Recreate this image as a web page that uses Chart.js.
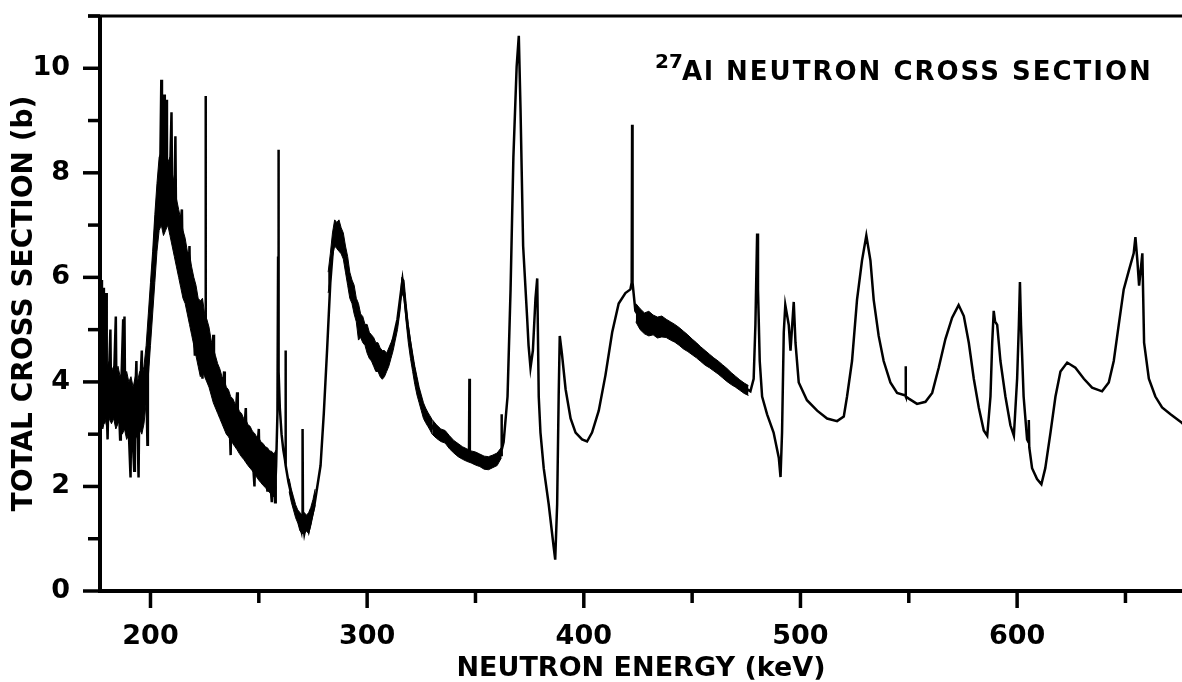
<!DOCTYPE html>
<html><head><meta charset="utf-8">
<script src="https://cdn.jsdelivr.net/npm/chart.js@4.4.1/dist/chart.umd.min.js"></script>
<style>html,body{margin:0;padding:0;background:#fff;}#wrap{width:1182px;height:682px;}</style>
</head><body><div id="wrap"><canvas id="c" width="1182" height="682"></canvas></div>
<script>
// ---- ticks and tick labels ----
const xTickValues = [200, 250, 300, 350, 400, 450, 500, 550, 600, 650];
const xTickLabels = [200, 300, 400, 500, 600];
const yTickValues = [0, 1, 2, 3, 4, 5, 6, 7, 8, 9, 10, 11];
const yTickLabels = [0, 2, 4, 6, 8, 10];

// ---- main trace: neutron energy (keV) and total cross section (b) ----
const energy = [177.0,177.3,177.6,178.2,178.5,179.0,179.5,179.8,180.2,180.6,181.5,181.8,183.0,184.0,184.3,185.3,186.0,186.3,187.4,187.7,188.0,188.3,189.5,190.8,191.1,192.5,192.8,193.5,193.8,194.5,194.8,196.0,196.3,197.0,198.0,198.6,198.8,199.5,200.5,201.5,202.5,203.5,204.5,205.0,205.3,206.0,206.3,206.6,207.3,207.6,208.5,208.8,209.7,210.0,211.0,211.5,211.8,213.0,214.5,214.8,216.0,217.5,218.0,218.3,219.5,220.5,220.8,222.0,223.0,224.0,224.3,225.2,225.4,225.6,227.0,228.5,229.0,229.3,231.0,233.0,234.0,234.3,235.0,236.5,237.0,237.3,239.0,240.0,240.3,241.0,243.0,244.0,244.3,245.0,247.0,248.0,248.3,249.0,250.0,250.3,251.0,253.0,254.0,254.3,255.0,256.0,256.3,257.0,257.5,257.8,258.0,258.6,258.9,259.0,259.1,259.3,259.7,260.5,261.3,262.1,262.3,262.5,263.7,266.0,268.3,269.7,270.0,270.2,270.4,271.0,272.0,273.0,274.0,275.5,277.0,278.5,280.0,281.5,283.0,284.5,286.0,287.5,289.0,292.0,295.5,298.4,303.0,307.0,310.8,314.0,316.3,318.6,321.0,323.3,326.0,330.6,335.2,339.8,344.4,347.0,347.2,347.4,350.9,355.5,360.1,361.8,362.0,362.2,363.0,364.8,366.2,367.5,369.0,370.0,370.8,372.0,373.8,374.5,375.4,376.5,377.7,378.5,379.2,380.0,381.5,383.8,386.1,386.8,387.7,388.4,388.9,389.9,391.6,393.9,396.2,399.2,401.5,403.8,406.9,410.0,413.1,416.1,419.2,421.5,422.1,422.3,422.5,423.8,426.9,431.5,437.7,443.8,450.0,456.1,462.3,468.4,473.0,476.9,478.4,479.2,480.0,480.4,481.2,482.3,484.6,487.6,490.0,490.8,491.5,492.3,493.0,494.6,495.4,496.9,497.7,499.2,503.0,507.7,512.3,516.9,520.0,521.5,523.8,526.1,528.4,530.4,532.3,533.8,536.1,538.4,541.5,544.6,547.7,548.3,548.5,548.7,550.0,553.8,557.7,560.8,563.8,566.9,570.0,573.0,575.4,577.7,580.0,582.3,584.6,586.2,587.7,588.5,589.2,589.8,590.8,592.3,594.6,596.9,598.5,600.0,600.8,601.3,601.8,603.0,604.6,605.2,605.4,605.6,606.9,609.2,611.2,613.0,615.4,617.7,620.0,623.1,626.9,630.8,634.6,639.2,642.3,644.6,646.9,649.2,651.5,653.8,654.6,655.5,656.3,657.8,658.6,660.8,663.8,666.9,670.8,675.4,676.5];
const sigma = [4.0,5.95,3.6,5.8,3.2,3.9,5.7,3.5,2.9,3.8,5.0,3.7,3.8,5.25,3.7,3.7,2.9,3.6,5.2,3.7,5.25,3.6,3.6,2.17,3.5,2.3,3.5,4.4,3.5,2.17,3.5,4.6,3.6,3.7,4.1,2.8,4.3,5.0,5.8,6.4,7.1,7.6,8.0,9.78,8.0,7.9,9.5,7.8,9.4,7.8,8.2,7.5,9.16,7.4,7.3,8.7,7.1,6.7,7.3,6.4,6.1,5.7,6.6,5.6,5.4,4.5,5.3,5.0,4.8,4.06,4.8,4.8,9.47,4.7,4.45,4.2,4.9,4.2,3.85,3.65,4.2,3.6,3.5,3.3,2.6,3.3,3.2,3.8,3.1,3.05,2.9,3.5,2.9,2.8,2.68,2.0,2.65,2.55,3.1,2.5,2.45,2.35,1.9,2.3,2.25,1.7,2.2,2.15,1.7,2.2,2.4,3.4,6.4,8.44,6.4,4.2,3.5,3.0,2.7,2.5,4.6,2.4,2.08,1.66,1.39,1.15,1.3,3.1,1.3,1.1,1.3,1.15,1.35,1.6,2.0,2.4,3.4,4.6,5.9,6.7,6.95,6.8,6.6,5.9,5.35,4.95,4.55,4.35,4.6,5.2,5.95,5.1,4.4,3.9,3.45,3.1,2.97,2.76,2.62,2.6,4.06,2.6,2.52,2.45,2.52,2.6,3.38,2.7,2.85,3.72,5.77,8.3,10.03,10.62,9.2,6.6,5.26,4.7,4.27,4.6,5.6,5.98,3.72,3.03,2.35,1.66,0.84,0.6,1.66,3.72,4.88,4.54,3.86,3.3,3.03,2.9,2.86,3.03,3.45,4.13,4.95,5.5,5.7,5.77,5.9,8.92,5.9,5.36,5.16,5.09,5.02,4.88,4.68,4.47,4.27,4.06,3.92,3.82,4.06,5.09,6.84,5.77,4.4,3.72,3.38,3.03,2.55,2.18,3.03,4.95,5.47,5.09,4.6,5.53,4.75,3.99,3.65,3.45,3.3,3.25,3.34,3.72,4.4,5.57,6.32,6.8,6.32,5.57,4.88,4.4,3.99,3.79,3.75,3.75,4.3,3.72,3.68,3.58,3.62,3.79,4.27,4.82,5.23,5.47,5.26,4.75,4.06,3.51,3.07,2.97,3.72,4.75,5.36,5.16,5.09,4.4,3.72,3.17,2.97,4.06,5.09,5.91,5.09,3.72,2.9,2.85,3.27,2.75,2.35,2.14,2.04,2.35,3.03,3.72,4.2,4.37,4.27,4.06,3.89,3.82,3.99,4.4,5.09,5.77,6.12,6.46,6.77,6.32,5.84,6.46,4.75,4.06,3.72,3.51,3.38,3.24,3.2];

// ---- statistical-scatter envelopes (upper / lower) of the noisy stretches ----
const bandAE = [177,178,179,180,181,182,183,184,185,186,187,188,189,190,191,192,193,194,195,196,197,198,199,200,201,202,203,204,205,206,207,208,209,210,211,212,213,214,215,216,217,218,219,220,221,222,223,224,225,226,227,228,229,230,231,232,233,234,235,236,237,238,239,240,241,242,243,244,245,246,247,248,249,250,251,252,253,254,255,256,257,258];
const bandAHi = [4.6,4.4,4.5,4.3,4.4,4.2,4.3,4.1,4.3,4.1,4.2,4.0,4.2,4.0,4.1,3.9,4.1,4.0,4.2,4.1,4.3,4.7,5.3,5.9,6.5,7.2,7.8,8.3,8.4,8.3,8.5,8.2,8.3,8.0,7.8,7.5,7.3,7.1,6.9,6.75,6.5,6.45,6.2,6.0,5.85,5.6,5.55,5.6,5.3,5.2,5.05,4.8,4.65,4.5,4.35,4.25,4.1,4.05,3.9,3.85,3.72,3.68,3.58,3.55,3.44,3.4,3.3,3.28,3.18,3.15,3.06,3.02,2.95,2.93,2.85,2.82,2.76,2.74,2.68,2.67,2.62,2.7];
const bandALo = [3.2,3.1,3.3,3.1,3.3,3.2,3.3,3.1,3.2,3.3,3.0,3.1,2.9,3.0,2.8,3.0,2.9,3.0,3.1,3.0,3.2,3.6,4.1,4.7,5.3,5.9,6.5,6.9,7.0,6.8,6.9,7.0,6.8,6.6,6.4,6.2,6.0,5.8,5.6,5.5,5.3,5.1,4.9,4.7,4.5,4.3,4.1,4.2,4.1,4.0,3.9,3.75,3.6,3.5,3.4,3.3,3.2,3.1,3.0,2.95,2.88,2.82,2.76,2.7,2.63,2.57,2.52,2.46,2.4,2.35,2.3,2.24,2.18,2.12,2.07,2.02,1.98,1.93,1.88,1.84,1.8,2.0];

const bandEE = [264,265,266,267,268,269,270,271,272,273,274,275,276];
const bandEHi = [2.15,1.95,1.8,1.65,1.55,1.5,1.45,1.5,1.45,1.5,1.6,1.75,1.95];
const bandELo = [1.9,1.7,1.55,1.4,1.3,1.15,1.1,1.1,1.15,1.1,1.25,1.45,1.65];

const bandBE = [282,283,284,285,286,287,288,289,290,291,292,293,294,295,296,297,298,299,300,301,302,303,304,305,306,307,308,309,310,311,312,313,314,315,316,317,318,319,320,321,322,323,324,325,326,327,328,329,330];
const bandBHi = [6.1,6.45,6.85,7.1,7.05,7.1,6.95,6.85,6.6,6.4,6.1,5.95,5.85,5.6,5.5,5.3,5.25,5.1,5.1,4.95,4.9,4.85,4.75,4.75,4.65,4.6,4.6,4.55,4.65,4.75,4.85,5.0,5.15,5.35,6.0,5.95,5.5,5.1,4.8,4.55,4.3,4.1,3.9,3.75,3.6,3.5,3.42,3.35,3.28];
const bandBLo = [5.7,6.0,6.4,6.6,6.55,6.5,6.45,6.35,6.1,5.85,5.6,5.5,5.3,5.15,4.8,4.85,4.75,4.7,4.55,4.45,4.4,4.3,4.2,4.2,4.1,4.05,4.1,4.2,4.3,4.45,4.6,4.8,5.0,5.3,5.7,5.6,5.15,4.75,4.45,4.2,3.95,3.75,3.6,3.45,3.3,3.22,3.15,3.08,3.0];

const bandCE = [330,332,334,336,338,340,342,344,346,348,350,352,354,356,358,360,362];
const bandCHi = [3.28,3.18,3.1,3.07,2.97,2.88,2.82,2.76,2.72,2.68,2.66,2.62,2.58,2.57,2.6,2.64,2.75];
const bandCLo = [3.0,2.92,2.86,2.83,2.72,2.64,2.57,2.52,2.48,2.45,2.41,2.38,2.33,2.32,2.36,2.4,2.55];

const bandDE = [424,426,428,430,432,434,436,438,440,442,444,446,448,450,452,454,456,458,460,462,464,466,468,470,472,474,476];
const bandDHi = [5.5,5.4,5.32,5.35,5.28,5.24,5.26,5.2,5.15,5.1,5.04,4.97,4.9,4.82,4.75,4.67,4.6,4.53,4.46,4.4,4.33,4.26,4.18,4.11,4.04,3.98,3.93];
const bandDLo = [5.15,5.0,4.92,4.88,4.9,4.84,4.86,4.85,4.8,4.76,4.7,4.63,4.58,4.52,4.46,4.39,4.32,4.27,4.21,4.15,4.08,4.01,3.95,3.9,3.84,3.78,3.74];

// ---- build datasets ----
const pts = (xs, ys) => xs.map((x, i) => ({x: x, y: ys[i]}));
function band(E, hi, lo) {
  return [
    {data: pts(E, hi), borderColor: '#000', borderWidth: 1, pointRadius: 0, fill: false, tension: 0},
    {data: pts(E, lo), borderColor: '#000', borderWidth: 1, pointRadius: 0, fill: '-1', backgroundColor: '#000', tension: 0}
  ];
}
const datasets = [
  {data: pts(energy, sigma), borderColor: '#000', borderWidth: 2.5, pointRadius: 0, fill: false, tension: 0},
  ...band(bandAE, bandAHi, bandALo),
  ...band(bandEE, bandEHi, bandELo),
  ...band(bandBE, bandBHi, bandBLo),
  ...band(bandCE, bandCHi, bandCLo),
  ...band(bandDE, bandDHi, bandDLo)
];

const FONT = "'DejaVu Sans', 'Liberation Sans', sans-serif";

const framePlugin = {
  id: 'frame',
  afterDraw(chart) {
    const {ctx, chartArea: {left, right, top, bottom}, scales: {x, y}} = chart;
    ctx.save();
    ctx.strokeStyle = '#000';
    ctx.lineCap = 'butt';
    ctx.lineWidth = 3.5;
    yTickValues.forEach(v => {
      const py = y.getPixelForValue(v);
      const len = yTickLabels.includes(v) ? 17 : 12;
      ctx.beginPath(); ctx.moveTo(left - len, py); ctx.lineTo(left, py); ctx.stroke();
    });
    xTickValues.forEach(v => {
      const px = x.getPixelForValue(v);
      const len = xTickLabels.includes(v) ? 17 : 12;
      ctx.beginPath(); ctx.moveTo(px, bottom); ctx.lineTo(px, bottom + len); ctx.stroke();
    });
    ctx.lineWidth = 4;
    ctx.beginPath(); ctx.moveTo(left, top); ctx.lineTo(left, bottom + 2); ctx.stroke();
    ctx.beginPath(); ctx.moveTo(left - 2, bottom); ctx.lineTo(right, bottom); ctx.stroke();
    ctx.lineWidth = 3;
    ctx.beginPath(); ctx.moveTo(left - 12, top); ctx.lineTo(right, top); ctx.stroke();
    // annotation
    ctx.fillStyle = '#000';
    ctx.textBaseline = 'alphabetic';
    ctx.textAlign = 'left';
    ctx.font = 'bold 20px ' + FONT;
    ctx.fillText('27', 655, 68);
    ctx.font = 'bold 26px ' + FONT;
    ctx.letterSpacing = '2px';
    ctx.fillText('Al NEUTRON CROSS SECTION', 682, 80);
    ctx.restore();
  }
};

const zeroPad = s => { s.paddingTop = 0; s.paddingBottom = 0; s.paddingLeft = 0; s.paddingRight = 0; };

new Chart(document.getElementById('c'), {
  type: 'line',
  data: {datasets: datasets},
  options: {
    responsive: false,
    animation: false,
    events: [],
    layout: {padding: {top: 16, right: 0, left: 0, bottom: 0}},
    plugins: {legend: {display: false}, tooltip: {enabled: false}},
    scales: {
      x: {
        type: 'linear', min: 176.7, max: 676.1,
        grid: {display: false}, border: {display: false},
        afterBuildTicks: s => { s.ticks = xTickValues.map(v => ({value: v})); },
        ticks: {autoSkip: false, maxRotation: 0, minRotation: 0, color: '#000', padding: 22,
          font: {family: FONT, size: 27, weight: 'bold'},
          callback: v => xTickLabels.includes(v) ? String(v) : ''},
        title: {display: true, text: 'NEUTRON ENERGY (keV)', color: '#000', padding: {top: 0, bottom: 0},
          font: {family: FONT, size: 27, weight: 'bold', lineHeight: 1}},
        afterFit: s => { s.height = 91; zeroPad(s); }
      },
      y: {
        type: 'linear', min: 0, max: 11,
        grid: {display: false}, border: {display: false},
        afterBuildTicks: s => { s.ticks = yTickValues.map(v => ({value: v})); },
        ticks: {autoSkip: false, color: '#000', padding: 22,
          font: {family: FONT, size: 27, weight: 'bold'},
          callback: v => yTickLabels.includes(v) ? String(v) : ''},
        title: {display: true, text: 'TOTAL CROSS SECTION (b)', color: '#000', padding: {top: 11, bottom: 0},
          font: {family: FONT, size: 28, weight: 'bold', lineHeight: 1}},
        afterFit: s => { s.width = 100; zeroPad(s); }
      }
    }
  },
  plugins: [framePlugin]
});
</script>
</body></html>
